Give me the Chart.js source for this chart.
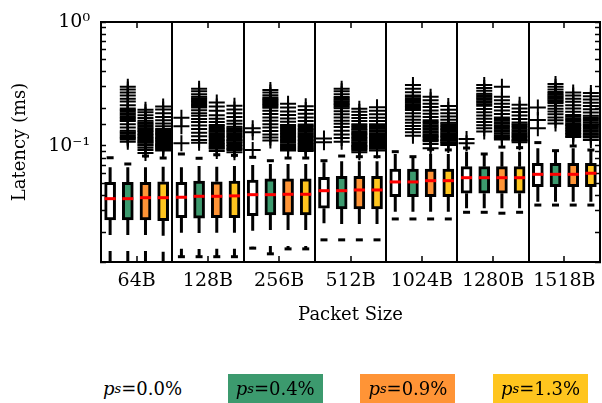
<!DOCTYPE html>
<html lang="en">
<head>
  <meta charset="UTF-8" />
  <meta name="viewport" content="width=device-width, initial-scale=1" />
  <title>Latency by packet size</title>
  <script src="https://cdn.jsdelivr.net/npm/chart.js"></script>
  <style>
    html, body { margin: 0; background: #fff; overflow: hidden; }
    .wrap { position: relative; width: 602px; height: 403px; overflow: hidden; }
    .legend-item {
      position: absolute; top: 374px; width: 95px; height: 29px;
      display: flex; align-items: center; justify-content: center;
      font: 18px "DejaVu Serif", serif; color: #000;
    }
    .legend-item sub { font-size: 13px; }
  </style>
</head>
<body>
  <div class="wrap">
    <canvas id="grafico"></canvas>
    <div id="legenda"></div>
  </div>

  <script>
    // categorias e séries
    const sizes = ['64B', '128B', '256B', '512B', '1024B', '1280B', '1518B'];
    const lossRates = ['0.0%', '0.4%', '0.9%', '1.3%'];

    // estatísticas das caixas, [grupo][série], em ms
    const q1 = [
      [0.0253, 0.0253, 0.0253, 0.0250],
      [0.0264, 0.0262, 0.0264, 0.0264],
      [0.0274, 0.0278, 0.0278, 0.0278],
      [0.0315, 0.0311, 0.0311, 0.0311],
      [0.0390, 0.0390, 0.0390, 0.0390],
      [0.0416, 0.0416, 0.0416, 0.0416],
      [0.0470, 0.0470, 0.0470, 0.0470]
    ];
    const median = [
      [0.0376, 0.0376, 0.0383, 0.0383],
      [0.0386, 0.0393, 0.0393, 0.0396],
      [0.0405, 0.0405, 0.0408, 0.0408],
      [0.0436, 0.0436, 0.0442, 0.0442],
      [0.0513, 0.0513, 0.0525, 0.0525],
      [0.0555, 0.0555, 0.0555, 0.0555],
      [0.0591, 0.0591, 0.0591, 0.0603]
    ];
    const q3 = [
      [0.0510, 0.0510, 0.0510, 0.0515],
      [0.0510, 0.0522, 0.0515, 0.0522],
      [0.0532, 0.0543, 0.0543, 0.0543],
      [0.0559, 0.0570, 0.0570, 0.0570],
      [0.0651, 0.0651, 0.0651, 0.0651],
      [0.0681, 0.0681, 0.0681, 0.0681],
      [0.0725, 0.0725, 0.0725, 0.0725]
    ];
    const upperCap = [
      [0.0804, 0.0716, 0.0830, 0.0800],
      [0.0862, 0.0796, 0.0850, 0.0840],
      [0.0810, 0.0761, 0.0800, 0.0800],
      [0.0761, 0.0830, 0.0820, 0.0820],
      [0.0900, 0.0820, 0.0940, 0.0930],
      [0.0963, 0.0862, 0.0980, 0.0970],
      [0.1065, 0.0917, 0.1000, 0.0928]
    ];
    const lowerCap = [
      [0.0105, 0.0105, 0.0105, 0.0105],
      [0.0128, 0.0128, 0.0128, 0.0128],
      [0.0150, 0.0135, 0.0148, 0.0148],
      [0.0175, 0.0175, 0.0175, 0.0175],
      [0.0258, 0.0258, 0.0258, 0.0258],
      [0.0292, 0.0292, 0.0287, 0.0292],
      [0.0334, 0.0334, 0.0334, 0.0334]
    ];

    // outliers (+), [grupo][série]
    const fliers = [
      [ // 64B
        [],
        [0.30, 0.286, 0.27, 0.256, 0.241, 0.228, 0.213, 0.201, 0.195, 0.19, 0.184, 0.179, 0.173, 0.168, 0.163, 0.159, 0.15, 0.141, 0.133, 0.129, 0.126, 0.122, 0.119, 0.116, 0.113, 0.108],
        [0.196, 0.187, 0.177, 0.168, 0.16, 0.155, 0.151, 0.147, 0.143, 0.139, 0.136, 0.132, 0.129, 0.125, 0.122, 0.119, 0.116, 0.113, 0.111, 0.108, 0.106, 0.103, 0.101, 0.097, 0.093, 0.088],
        [0.208, 0.197, 0.184, 0.171, 0.161, 0.152, 0.144, 0.137, 0.134, 0.131, 0.128, 0.125, 0.122, 0.119, 0.116, 0.114, 0.111, 0.109, 0.106, 0.104, 0.102, 0.1, 0.098, 0.096, 0.094, 0.092]
      ],
      [ // 128B
        [0.169, 0.144, 0.105],
        [0.29, 0.276, 0.262, 0.25, 0.243, 0.237, 0.231, 0.225, 0.219, 0.214, 0.209, 0.204, 0.194, 0.184, 0.175, 0.165, 0.156, 0.146, 0.137, 0.128, 0.12, 0.112, 0.106],
        [0.224, 0.208, 0.192, 0.177, 0.166, 0.156, 0.148, 0.144, 0.14, 0.136, 0.133, 0.13, 0.127, 0.124, 0.121, 0.118, 0.115, 0.112, 0.109, 0.106, 0.104, 0.101, 0.099, 0.097, 0.095, 0.091],
        [0.211, 0.197, 0.184, 0.171, 0.16, 0.151, 0.143, 0.139, 0.136, 0.133, 0.13, 0.127, 0.124, 0.121, 0.118, 0.115, 0.112, 0.11, 0.107, 0.105, 0.102, 0.1, 0.097, 0.095, 0.093, 0.089]
      ],
      [ // 256B
        [0.139, 0.129, 0.093],
        [0.283, 0.27, 0.257, 0.246, 0.24, 0.235, 0.229, 0.224, 0.218, 0.213, 0.208, 0.203, 0.192, 0.181, 0.17, 0.16, 0.15, 0.141, 0.132, 0.124, 0.117, 0.111],
        [0.219, 0.204, 0.19, 0.178, 0.167, 0.157, 0.148, 0.144, 0.14, 0.136, 0.132, 0.128, 0.125, 0.121, 0.118, 0.115, 0.112, 0.109, 0.106, 0.103, 0.101, 0.098, 0.096, 0.094, 0.092],
        [0.209, 0.195, 0.182, 0.17, 0.159, 0.149, 0.145, 0.141, 0.137, 0.134, 0.13, 0.127, 0.124, 0.121, 0.118, 0.115, 0.112, 0.109, 0.106, 0.104, 0.101, 0.099, 0.097, 0.095, 0.093, 0.091]
      ],
      [ // 512B
        [0.115, 0.107],
        [0.29, 0.276, 0.261, 0.248, 0.242, 0.236, 0.23, 0.224, 0.218, 0.213, 0.207, 0.202, 0.191, 0.18, 0.17, 0.16, 0.151, 0.142, 0.133, 0.124, 0.116, 0.108],
        [0.2, 0.189, 0.178, 0.168, 0.159, 0.15, 0.146, 0.142, 0.138, 0.135, 0.131, 0.128, 0.125, 0.122, 0.119, 0.116, 0.113, 0.11, 0.107, 0.105, 0.102, 0.1, 0.098, 0.096, 0.094, 0.092, 0.089],
        [0.205, 0.192, 0.18, 0.169, 0.159, 0.15, 0.146, 0.142, 0.138, 0.134, 0.131, 0.127, 0.124, 0.121, 0.118, 0.115, 0.112, 0.109, 0.106, 0.104, 0.101, 0.099, 0.097, 0.095, 0.092]
      ],
      [ // 1024B
        [],
        [0.31, 0.29, 0.271, 0.256, 0.249, 0.242, 0.235, 0.229, 0.223, 0.217, 0.211, 0.206, 0.2, 0.195, 0.184, 0.173, 0.163, 0.154, 0.145, 0.137, 0.129, 0.121],
        [0.25, 0.234, 0.219, 0.206, 0.193, 0.182, 0.171, 0.161, 0.156, 0.152, 0.147, 0.143, 0.139, 0.135, 0.131, 0.128, 0.124, 0.121, 0.118, 0.115, 0.112, 0.109, 0.104, 0.096],
        [0.21, 0.196, 0.184, 0.173, 0.163, 0.154, 0.15, 0.145, 0.141, 0.137, 0.134, 0.13, 0.127, 0.124, 0.121, 0.118, 0.115, 0.112, 0.11, 0.107, 0.105, 0.102]
      ],
      [ // 1280B
        [0.114, 0.105],
        [0.31, 0.294, 0.279, 0.264, 0.257, 0.25, 0.243, 0.237, 0.23, 0.224, 0.217, 0.211, 0.199, 0.187, 0.176, 0.166, 0.156, 0.147, 0.139, 0.131],
        [0.30, 0.25, 0.234, 0.219, 0.206, 0.193, 0.181, 0.17, 0.165, 0.16, 0.155, 0.151, 0.146, 0.142, 0.138, 0.134, 0.13, 0.126, 0.122, 0.119, 0.116, 0.113],
        [0.215, 0.201, 0.188, 0.176, 0.165, 0.155, 0.15, 0.146, 0.142, 0.138, 0.134, 0.13, 0.127, 0.124, 0.121, 0.118, 0.115, 0.112, 0.11, 0.107]
      ],
      [ // 1518B
        [0.204, 0.162, 0.139],
        [0.316, 0.301, 0.286, 0.272, 0.265, 0.259, 0.252, 0.246, 0.24, 0.234, 0.228, 0.222, 0.211, 0.2, 0.19, 0.18, 0.17, 0.161, 0.152],
        [0.27, 0.255, 0.24, 0.227, 0.213, 0.201, 0.189, 0.178, 0.172, 0.167, 0.162, 0.157, 0.152, 0.148, 0.144, 0.14, 0.136, 0.132, 0.128, 0.125, 0.121, 0.118],
        [0.268, 0.252, 0.237, 0.223, 0.21, 0.198, 0.186, 0.175, 0.17, 0.165, 0.16, 0.155, 0.15, 0.146, 0.142, 0.138, 0.134, 0.13, 0.126, 0.123, 0.12, 0.117, 0.112]
      ]
    ];

    const cores = ['#ffffff', '#3c9a6e', '#ff9436', '#ffc51e'];
    const deslocamento = [-0.372, -0.124, 0.124, 0.372]; // posição da caixa dentro do grupo
    const fonte = '"DejaVu Serif", serif';

    Chart.defaults.font.family = fonte;
    Chart.defaults.font.size = 18;
    Chart.defaults.color = '#000';

    const datasets = [];
    lossRates.forEach((rate, s) => {
      const pos = g => g + deslocamento[s];

      datasets.push({
        type: 'bar',
        label: rate,
        data: sizes.map((_, g) => ({ x: pos(g), y: [q1[g][s], q3[g][s]] })),
        backgroundColor: cores[s],
        borderColor: '#000',
        borderWidth: 3,
        borderSkipped: false,
        barThickness: 11,
        grouped: false,
        order: 3
      });

      // bigodes tracejados, separados por null
      const bigodes = [];
      sizes.forEach((_, g) => {
        bigodes.push({ x: pos(g), y: q3[g][s] }, { x: pos(g), y: upperCap[g][s] }, { x: pos(g), y: null });
        bigodes.push({ x: pos(g), y: q1[g][s] }, { x: pos(g), y: lowerCap[g][s] }, { x: pos(g), y: null });
      });
      datasets.push({
        type: 'line',
        data: bigodes,
        borderColor: '#000',
        borderWidth: 3,
        borderDash: [15, 16],
        pointRadius: 0,
        spanGaps: false,
        order: 5
      });

      datasets.push({
        type: 'scatter',
        data: sizes.flatMap((_, g) => [
          { x: pos(g), y: upperCap[g][s] },
          { x: pos(g), y: lowerCap[g][s] }
        ]),
        pointStyle: 'line',
        radius: 3.5,
        borderWidth: 3,
        borderColor: '#000',
        order: 2
      });

      datasets.push({
        type: 'scatter',
        data: sizes.flatMap((_, g) => fliers[g][s].map(v => ({ x: pos(g), y: v }))),
        pointStyle: 'cross',
        radius: 8,
        borderWidth: 2,
        borderColor: '#000',
        order: 2
      });

      datasets.push({
        type: 'scatter',
        data: sizes.map((_, g) => ({ x: pos(g), y: median[g][s] })),
        pointStyle: 'line',
        radius: 5.5,
        borderWidth: 3,
        borderColor: '#ff0000',
        order: 0
      });
    });

    const ehInteiro = v => Math.abs(v - Math.round(v)) < 1e-9;
    const semPadding = sc => { sc.paddingLeft = 0; sc.paddingRight = 0; sc.paddingTop = 0; sc.paddingBottom = 0; };
    const eixoX = {
      type: 'linear',
      min: -0.5,
      max: 6.5,
      offset: false,
      border: { color: '#000', width: 2 },
      grid: {
        offset: false,
        color: ctx => (ctx.tick && !ehInteiro(ctx.tick.value)) ? '#000' : 'rgba(0,0,0,0)',
        lineWidth: 2,
        tickColor: ctx => (ctx.tick && ehInteiro(ctx.tick.value)) ? '#000' : 'rgba(0,0,0,0)',
        tickLength: -6,
        tickWidth: 1.5
      },
      ticks: {
        stepSize: 0.5,
        autoSkip: false,
        maxTicksLimit: 30,
        maxRotation: 0,
        padding: 14,
        font: { size: 19 },
        callback: v => ehInteiro(v) ? sizes[Math.round(v)] : ''
      }
    };
    const eixoY = {
      type: 'logarithmic',
      min: 0.0116,
      max: 1,
      border: { color: '#000', width: 2 },
      grid: {
        drawOnChartArea: false,
        tickLength: -5,
        tickWidth: 1.5,
        tickColor: '#000'
      },
      ticks: {
        autoSkip: false,
        padding: 16,
        font: { size: 19 },
        callback: v => {
          const e = Math.log10(v);
          if (Math.abs(e - Math.round(e)) > 1e-6) return '';
          return Math.round(e) === 0 ? '10⁰' : '10⁻¹';
        }
      }
    };

    new Chart(document.getElementById('grafico'), {
      type: 'bar',
      data: { datasets },
      options: {
        responsive: true,
        maintainAspectRatio: false,
        animation: false,
        layout: { autoPadding: false, padding: { left: 0, right: 2, top: 22, bottom: 76 } },
        plugins: { legend: { display: false }, tooltip: { enabled: false } },
        scales: {
          x: {
            ...eixoX,
            position: 'bottom',
            title: { display: true, text: 'Packet Size', padding: { top: 0, bottom: 1 } },
            afterFit: sc => { sc.height = 65; semPadding(sc); }
          },
          x2: {
            ...eixoX,
            position: 'top',
            grid: { ...eixoX.grid, drawOnChartArea: false },
            ticks: { ...eixoX.ticks, display: false },
            afterFit: sc => { sc.height = 0; semPadding(sc); }
          },
          y: {
            ...eixoY,
            position: 'left',
            title: { display: true, text: 'Latency (ms)', padding: { top: 10, bottom: 0 } },
            afterFit: sc => { sc.width = 101; semPadding(sc); }
          },
          y2: {
            ...eixoY,
            position: 'right',
            ticks: { ...eixoY.ticks, display: false },
            afterFit: sc => { sc.width = 0; semPadding(sc); }
          }
        }
      }
    });

    // legenda com fundo colorido atrás do texto
    const legenda = document.getElementById('legenda');
    lossRates.forEach((rate, s) => {
      const item = document.createElement('div');
      item.className = 'legend-item';
      item.style.left = (95 + s * 132.7) + 'px';
      item.style.background = cores[s];
      item.innerHTML = '<i>p</i><sub><i>s</i></sub>=' + rate;
      legenda.appendChild(item);
    });
  </script>
</body>
</html>
